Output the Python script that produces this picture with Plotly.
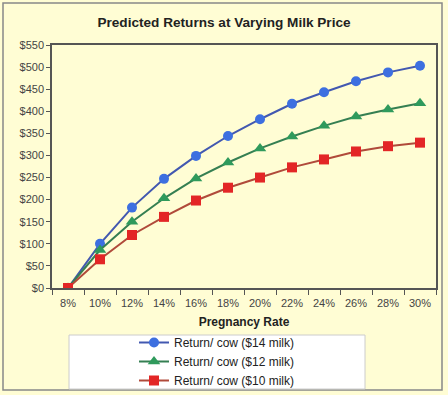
import plotly.graph_objects as go

categories = ["8%", "10%", "12%", "14%", "16%", "18%", "20%", "22%", "24%", "26%", "28%", "30%"]
milk14 = [0, 100, 182, 247, 299, 344, 382, 417, 443, 468, 488, 503]
milk12 = [0, 86, 150, 203, 248, 284, 316, 343, 367, 388, 404, 418]
milk10 = [0, 65, 120, 161, 198, 227, 250, 273, 291, 309, 321, 329]
names = ["Return/ cow ($14 milk)", "Return/ cow ($12 milk)", "Return/ cow ($10 milk)"]
y_ticks = list(range(0, 551, 50))
y_labels = ["$" + str(v) for v in y_ticks]

FONT = "Liberation Sans, Arial, sans-serif"
BG = "#FFFDD4"

fig = go.Figure()
fig.add_trace(go.Scatter(x=categories, y=milk14, name=names[0], mode="lines+markers",
                         line=dict(color="#4258b0", width=2),
                         marker=dict(symbol="circle", size=10, color="#3d6fe0")))
fig.add_trace(go.Scatter(x=categories, y=milk12, name=names[1], mode="lines+markers",
                         line=dict(color="#357f52", width=2),
                         marker=dict(symbol="triangle-up", size=11, color="#2f9a5c")))
fig.add_trace(go.Scatter(x=categories, y=milk10, name=names[2], mode="lines+markers",
                         line=dict(color="#b04a3a", width=2),
                         marker=dict(symbol="square", size=10, color="#e32626")))

L, T, W, H = 52, 45, 384, 243
def px(x): return (x - L) / W
def py(y): return (T + H - y) / H

fig.update_layout(
    width=448, height=395,
    margin=dict(l=L, r=448 - L - W, t=T, b=395 - T - H, autoexpand=False),
    paper_bgcolor=BG, plot_bgcolor=BG,
    font=dict(family=FONT, size=11, color="#333333"),
    title=dict(text="<b>Predicted Returns at Varying Milk Price</b>", x=0.5, xanchor="center",
               y=1 - 22 / 395, yanchor="middle", font=dict(size=13.6, color="#222222")),
    showlegend=True,
    legend=dict(x=px(134), y=py(328), xanchor="left", yanchor="top",
                bgcolor="rgba(0,0,0,0)", borderwidth=0,
                font=dict(size=12, color="#222222"), tracegroupgap=0, itemwidth=30),
    shapes=[
        dict(type="rect", xref="paper", yref="paper", x0=px(3), x1=px(442), y0=py(3), y1=py(390),
             line=dict(color="#888888", width=1.5), fillcolor="rgba(0,0,0,0)", layer="below"),
        dict(type="rect", xref="paper", yref="paper", x0=px(69), x1=px(365), y0=py(335), y1=py(389),
             line=dict(color="#cccccc", width=1), fillcolor="white", layer="below"),
    ],
)
fig.update_xaxes(type="category", categoryorder="array", categoryarray=categories,
                 range=[-0.5, 11.5], showgrid=False, showline=True, linecolor="#555555",
                 linewidth=1.5, mirror=True, ticks="outside", tickson="boundaries",
                 ticklen=5, tickcolor="#555555", ticklabelstandoff=4,
                 title=dict(text="<b>Pregnancy Rate</b>", font=dict(size=12, color="#222222"), standoff=10),
                 tickfont=dict(size=11, color="#444444"))
fig.update_yaxes(range=[0, 550], tickmode="array", tickvals=y_ticks, ticktext=y_labels, showgrid=False,
                 showline=True, linecolor="#555555", linewidth=1.5, mirror=True,
                 ticks="outside", ticklen=4, tickcolor="#555555", zeroline=False,
                 tickfont=dict(size=11, color="#444444"))

fig.write_html("out.html", config={"displayModeBar": False},
               post_script="document.body.style.margin='0px';")
